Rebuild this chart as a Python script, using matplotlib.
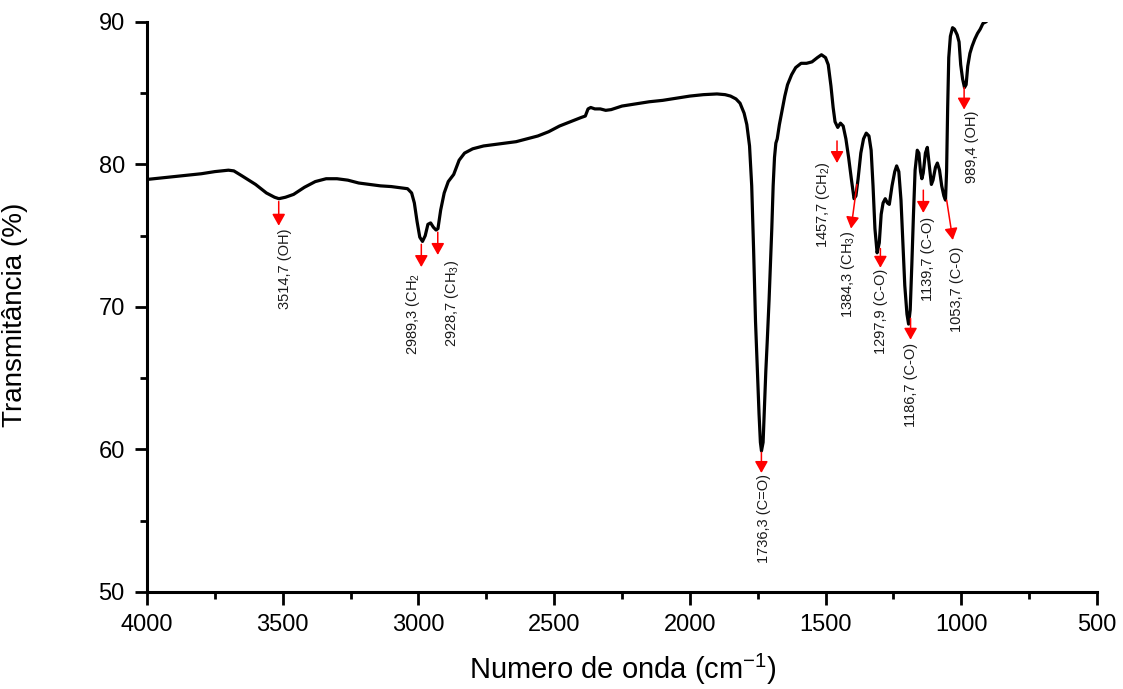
import matplotlib
matplotlib.use('Agg')
import matplotlib.pyplot as plt
from matplotlib.ticker import MultipleLocator

plt.rcParams['font.family'] = ['Liberation Sans', 'DejaVu Sans']
plt.rcParams['mathtext.fontset'] = 'custom'
plt.rcParams['mathtext.rm'] = 'Liberation Sans'
plt.rcParams['mathtext.it'] = 'Liberation Sans:italic'
plt.rcParams['mathtext.bf'] = 'Liberation Sans:bold'

# FTIR spectrum, wavenumber (cm-1) vs transmittance (%)
wavenumber = [
    4000, 3950, 3900, 3850, 3800, 3750, 3700, 3680, 3650, 3600, 3560, 3530,
    3514, 3490, 3460, 3420, 3380, 3340, 3300, 3260, 3220, 3180, 3140, 3100,
    3060, 3040, 3025, 3015, 3005, 2995, 2985, 2975, 2965, 2955, 2945, 2935,
    2928, 2918, 2905, 2890, 2870, 2850, 2830, 2800, 2760, 2720, 2680, 2640,
    2600, 2560, 2520, 2480, 2440, 2400, 2385, 2375, 2365, 2350, 2330, 2310,
    2290, 2250, 2200, 2150, 2100, 2050, 2000, 1950, 1900, 1870, 1850, 1830,
    1815, 1800, 1790, 1780, 1772, 1765, 1758, 1750, 1745, 1740, 1736, 1730,
    1725, 1720, 1715, 1708, 1703, 1698, 1693, 1688, 1683, 1678, 1670, 1660,
    1650, 1640, 1625, 1610, 1590, 1570, 1550, 1530, 1515, 1500, 1490, 1480,
    1472, 1465, 1455, 1445, 1435, 1425, 1415, 1405, 1395, 1388, 1380, 1370,
    1360, 1350, 1340, 1332, 1325, 1318, 1310, 1302, 1295, 1288, 1280, 1272,
    1265, 1255, 1245, 1238, 1230, 1222, 1215, 1208, 1200, 1194, 1188, 1182,
    1176, 1170, 1162, 1156, 1150, 1145, 1140, 1132, 1125, 1118, 1110, 1104,
    1095, 1088, 1080, 1072, 1064, 1058, 1054, 1050, 1046, 1040, 1032, 1025,
    1015, 1008, 1002, 995, 988, 982, 976, 968, 960, 950, 940, 930, 920, 910,
]
transmittance = [
    78.95, 79.05, 79.15, 79.25, 79.35, 79.5, 79.6, 79.55, 79.2, 78.6, 78.0, 77.7,
    77.6, 77.7, 77.9, 78.4, 78.8, 79.0, 79.0, 78.9, 78.7, 78.6, 78.5, 78.45,
    78.35, 78.3, 78.0, 77.3, 76.0, 74.9, 74.6, 75.0, 75.8, 75.9, 75.6, 75.4,
    75.5, 76.8, 78.0, 78.8, 79.3, 80.3, 80.8, 81.1, 81.3, 81.4, 81.5, 81.6,
    81.8, 82.0, 82.3, 82.7, 83.0, 83.3, 83.4, 83.9, 84.0, 83.9, 83.9, 83.8,
    83.85, 84.1, 84.25, 84.4, 84.5, 84.65, 84.8, 84.9, 84.95, 84.9, 84.8, 84.6,
    84.3, 83.6, 82.8, 81.3, 78.5, 74.0, 69.0, 65.0, 62.5, 60.5, 59.9, 60.5,
    63.0, 65.5, 67.5, 70.5, 73.0, 75.5, 78.5, 80.5, 81.5, 81.8, 82.8, 83.8,
    84.8, 85.6, 86.3, 86.8, 87.1, 87.1, 87.2, 87.5, 87.7, 87.5, 87.0, 85.5,
    84.0, 83.0, 82.6, 82.9, 82.7, 81.8, 80.5, 79.0, 77.6, 77.8, 79.0, 80.8,
    81.8, 82.2, 82.0, 81.0, 78.5, 75.5, 73.8, 74.5, 76.5, 77.3, 77.6, 77.3,
    77.2, 78.5, 79.5, 79.9, 79.5, 77.5, 74.5, 71.5, 69.5, 68.8, 69.8, 73.0,
    76.5, 79.6, 81.0, 80.8, 79.5, 79.0, 79.4, 80.8, 81.2, 80.0, 78.6, 78.9,
    79.8, 80.1, 79.6, 78.5, 77.8, 77.5, 79.5, 84.0, 87.5, 89.0, 89.6, 89.5,
    89.1, 88.6, 87.0, 86.0, 85.4, 85.6, 86.9, 87.8, 88.3, 88.8, 89.2, 89.5,
    89.9, 90.0,
]

# band assignments
band_labels = [
    '3514,7 (OH)', '2989,3 (CH$_2$', '2928,7 (CH$_3$)', '1736,3 (C=O)',
    '1457,7 (CH$_2$)', '1384,3 (CH$_3$)', '1297,9 (C-O)', '1186,7 (C-O)',
    '1139,7 (C-O)', '1053,7 (C-O)', '989,4 (OH)',
]
band_wn = [3514.7, 2989.3, 2928.7, 1736.3, 1457.7, 1384.3, 1297.9, 1186.7,
           1139.7, 1053.7, 989.4]

# arrow tail T, arrow tip (wn, T), label centre wn, label top T
arrow_tail = [77.4, 74.4, 75.25, 59.8, 81.65, 78.6, 74.1, 69.2, 78.2, 77.5, 85.4]
arrow_tip = [(3514.7, 75.7), (2989.3, 72.8), (2928.7, 73.65), (1736.3, 58.35),
             (1457.7, 80.1), (1406, 75.5), (1297.9, 72.75), (1186.7, 67.7),
             (1139.7, 76.6), (1031, 74.7), (989.4, 83.85)]
label_pos = [(3491, 75.5), (3020, 72.4), (2876, 73.3), (1726, 58.25),
             (1510, 80.2), (1417, 75.35), (1296, 72.65), (1185, 67.5),
             (1123, 76.35), (1016, 74.25), (961, 83.75)]

fig = plt.figure(figsize=(11.23, 6.89), dpi=100)
ax = fig.add_axes([0.1309, 0.1408, 0.8459, 0.8273])

ax.plot(wavenumber, transmittance, color='black', lw=2.3, solid_joinstyle='round')

for text, wn, tail, tip, pos in zip(band_labels, band_wn, arrow_tail, arrow_tip, label_pos):
    ax.annotate('', xy=tip, xytext=(wn, tail),
                arrowprops=dict(arrowstyle='-|>,head_length=0.5,head_width=0.28',
                                color='red', lw=1.1, mutation_scale=14,
                                shrinkA=0, shrinkB=0))
    ax.text(pos[0], pos[1], text, rotation=90, ha='center', va='top',
            fontsize=10.5, color='#1a1a1a')

ax.set_xlim(4000, 500)
ax.set_ylim(50, 90)
ax.xaxis.set_major_locator(MultipleLocator(500))
ax.xaxis.set_minor_locator(MultipleLocator(250))
ax.yaxis.set_major_locator(MultipleLocator(10))
ax.yaxis.set_minor_locator(MultipleLocator(5))

for side in ['top', 'right']:
    ax.spines[side].set_visible(False)
for side in ['left', 'bottom']:
    ax.spines[side].set_linewidth(2.2)

ax.tick_params(which='major', direction='out', length=9, width=2.0,
               labelsize=17, pad=7)
ax.tick_params(which='minor', direction='out', length=5, width=2.0)

ax.set_xlabel('Numero de onda (cm$^{-1}$)', fontsize=21)
ax.set_ylabel('Transmitância (%)', fontsize=20)
ax.xaxis.set_label_coords(0.501, -0.105)
ax.yaxis.set_label_coords(-0.125, 0.486)

fig.savefig('out.png', dpi=100)
